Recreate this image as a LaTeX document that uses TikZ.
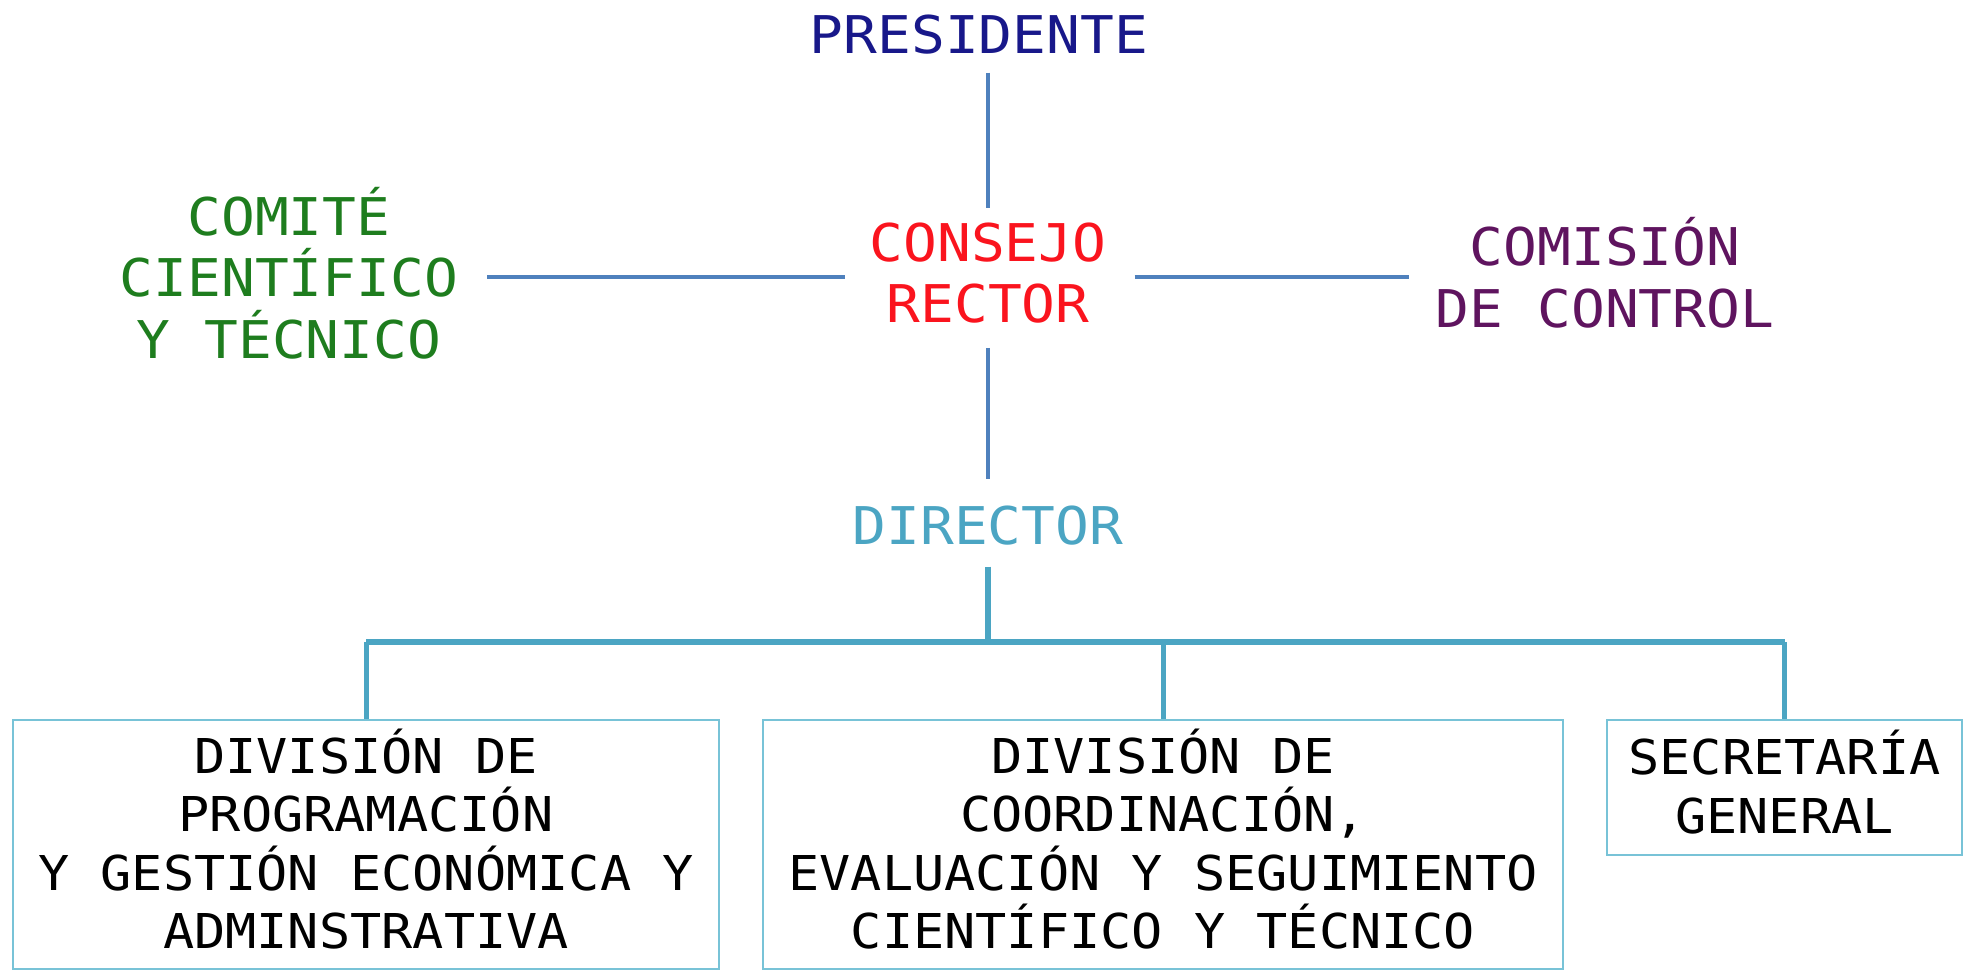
\documentclass[tikz,border=0pt]{standalone}
\usepackage{fontspec}
\newfontfamily\dmono[FakeStretch=1.08]{DejaVu Sans Mono}
\definecolor{cpres}{RGB}{24,24,138}
\definecolor{ccom}{RGB}{30,125,30}
\definecolor{ccons}{RGB}{250,20,30}
\definecolor{ccomis}{RGB}{95,20,95}
\definecolor{cdir}{RGB}{75,165,195}
\definecolor{cline}{RGB}{79,129,189}
\definecolor{cbox}{RGB}{120,195,215}
\tikzset{
  lbl/.style={inner sep=0pt, align=center,
    font=\dmono\fontsize{52}{61.5}\selectfont,
    execute at begin node={\rule{0pt}{1em}},
    execute at end node={\rule[-0.25em]{0pt}{0pt}}},
  boxn/.style={draw=cbox, line width=2pt, inner sep=0pt, align=center,
    font=\dmono\fontsize{48}{58.5}\selectfont,
    execute at begin node={\rule{0pt}{\dimexpr 1em+8pt\relax}},
    execute at end node={\rule[-0.25em]{0pt}{0pt}}},
  topline/.style={draw=cline, line width=4.5pt},
  dline/.style={draw=cdir, line width=6pt},
  dropline/.style={draw=cdir, line width=5pt},
}
\begin{document}
\begin{tikzpicture}[x=1pt,y=-1pt]
\useasboundingbox (0,0) rectangle (1968,970);
\node[lbl, text=cpres] (pres) at (979,34) {PRESIDENTE};
\node[lbl, text=ccom] (com) at (289,279) {COMITÉ\\CIENTÍFICO\\Y TÉCNICO};
\node[lbl, text=ccons] (cr) at (988,279) {CONSEJO\\RECTOR};
\node[lbl, text=ccomis] (comis) at (1605,279) {COMISIÓN\\DE CONTROL};
\node[lbl, text=cdir] (dir) at (988,525) {DIRECTOR};

\node[boxn, minimum width=706pt, minimum height=249pt] (b1) at (366,844.5)
  {DIVISIÓN DE\\PROGRAMACIÓN\\Y GESTIÓN ECONÓMICA Y\\ADMINSTRATIVA};
\node[boxn, minimum width=800pt, minimum height=249pt] (b2) at (1163,844.5)
  {DIVISIÓN DE\\COORDINACIÓN,\\EVALUACIÓN Y SEGUIMIENTO\\CIENTÍFICO Y TÉCNICO};
\node[boxn, minimum width=355pt, minimum height=135pt] (b3) at (1784.5,787.5)
  {SECRETARÍA\\GENERAL};

\coordinate (bar) at (988,642);

\draw[topline, shorten <=6pt, shorten >=14pt] (pres.south -| cr.north) -- (cr.north);
\draw[topline, shorten <=12pt, shorten >=13pt] (cr.south) -- (dir.north);
\draw[topline, shorten <=29pt, shorten >=24pt] ([yshift=2pt]com.east |- cr.west) -- ([yshift=2pt]cr.west);
\draw[topline, shorten <=28pt, shorten >=27pt] ([yshift=2pt]cr.east) -- ([yshift=2pt]comis.west |- cr.east);

\draw[dline, shorten <=9pt] (dir.south) -- (bar);
\draw[dline] (bar -| b1.north) -- (bar -| b3.north);
\draw[dropline] (bar -| b1.north) -- (b1.north);
\draw[dropline] (bar -| b2.north) -- (b2.north);
\draw[dropline] (bar -| b3.north) -- (b3.north);
\end{tikzpicture}
\end{document}
